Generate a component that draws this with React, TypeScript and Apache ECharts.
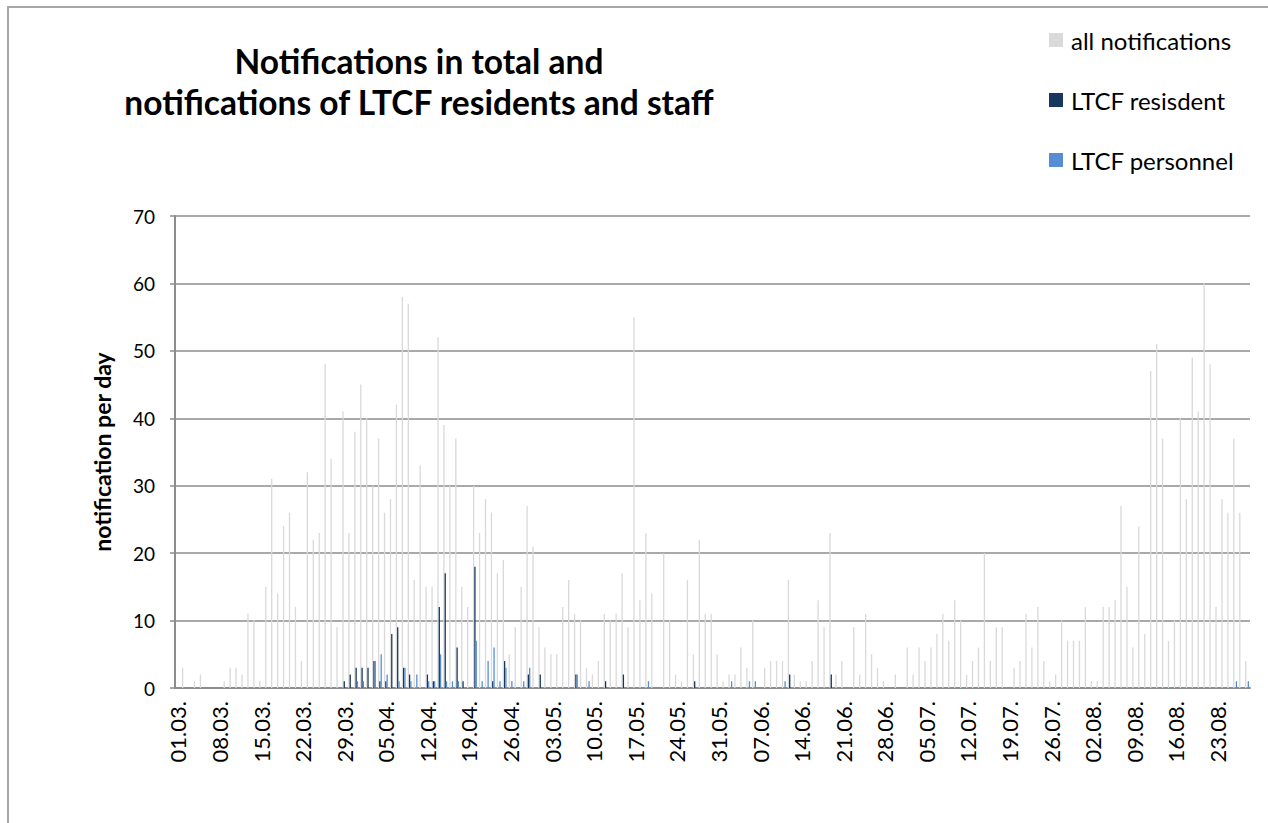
import React, { useEffect, useRef } from "react";
import * as echarts from "echarts";

const FONT = "Lato";

// Daily categories 01.03. .. 28.08.
const FIRST_MONTH = 3;
const MONTH_LENGTHS = [31, 30, 31, 30, 31, 31]; // Mar..Aug
const DAY_COUNT = 181;

function buildDates(): string[] {
  const out: string[] = [];
  let m = 0;
  let d = 1;
  for (let i = 0; i < DAY_COUNT; i++) {
    out.push(String(d).padStart(2, "0") + "." + String(FIRST_MONTH + m).padStart(2, "0") + ".");
    d++;
    if (d > MONTH_LENGTHS[m]) {
      d = 1;
      m++;
    }
  }
  return out;
}
const dates = buildDates();

const allNotifications = [
  0, 3, 0, 1, 2, 0, 0, 0, 1, 3,
  3, 2, 11, 10, 1, 15, 31, 14, 24, 26,
  12, 4, 32, 22, 23, 48, 34, 9, 41, 23,
  38, 45, 40, 30, 37, 26, 28, 42, 58, 57,
  16, 33, 15, 15, 52, 39, 30, 37, 15, 12,
  30, 23, 28, 26, 17, 19, 5, 9, 15, 27,
  21, 9, 6, 5, 5, 12, 16, 11, 10, 3,
  2, 4, 11, 10, 11, 17, 9, 55, 13, 23,
  14, 0, 20, 10, 2, 1, 16, 5, 22, 11,
  11, 5, 1, 2, 2, 6, 3, 10, 0, 3,
  4, 4, 4, 16, 2, 1, 1, 4, 13, 9,
  23, 2, 4, 0, 9, 2, 11, 5, 3, 1,
  0, 2, 0, 6, 2, 6, 4, 6, 8, 11,
  7, 13, 10, 2, 4, 6, 20, 4, 9, 9,
  0, 3, 4, 11, 6, 12, 4, 1, 2, 10,
  7, 7, 7, 12, 1, 1, 12, 12, 13, 27,
  15, 6, 24, 8, 47, 51, 37, 7, 10, 40,
  28, 49, 41, 60, 48, 12, 28, 26, 37, 26,
  4,
];

const ltcfResident = [
  0, 0, 0, 0, 0, 0, 0, 0, 0, 0,
  0, 0, 0, 0, 0, 0, 0, 0, 0, 0,
  0, 0, 0, 0, 0, 0, 0, 0, 1, 2,
  3, 3, 3, 4, 1, 1, 8, 9, 3, 2,
  0, 0, 2, 1, 12, 17, 0, 6, 1, 0,
  18, 0, 0, 1, 0, 4, 0, 0, 0, 2,
  0, 2, 0, 0, 0, 0, 0, 2, 0, 0,
  0, 0, 1, 0, 0, 2, 0, 0, 0, 0,
  0, 0, 0, 0, 0, 0, 0, 1, 0, 0,
  0, 0, 0, 0, 0, 0, 0, 0, 0, 0,
  0, 0, 0, 2, 0, 0, 0, 0, 0, 0,
  2, 0, 0, 0, 0, 0, 0, 0, 0, 0,
  0, 0, 0, 0, 0, 0, 0, 0, 0, 0,
  0, 0, 0, 0, 0, 0, 0, 0, 0, 0,
  0, 0, 0, 0, 0, 0, 0, 0, 0, 0,
  0, 0, 0, 0, 0, 0, 0, 0, 0, 0,
  0, 0, 0, 0, 0, 0, 0, 0, 0, 0,
  0, 0, 0, 0, 0, 0, 0, 0, 0, 0,
  0,
];

const ltcfPersonnel = [
  0, 0, 0, 0, 0, 0, 0, 0, 0, 0,
  0, 0, 0, 0, 0, 0, 0, 0, 0, 0,
  0, 0, 0, 0, 0, 0, 0, 0, 0, 0,
  1, 1, 0, 4, 5, 2, 0, 1, 3, 1,
  2, 0, 1, 1, 5, 1, 1, 1, 0, 0,
  7, 1, 4, 6, 1, 3, 1, 0, 1, 3,
  0, 0, 0, 0, 0, 0, 0, 2, 0, 1,
  0, 0, 0, 0, 0, 0, 0, 0, 0, 1,
  0, 0, 0, 0, 0, 0, 0, 0, 0, 0,
  0, 0, 0, 1, 0, 0, 1, 1, 0, 0,
  0, 0, 1, 0, 0, 0, 0, 0, 0, 0,
  0, 0, 0, 0, 0, 0, 0, 0, 0, 0,
  0, 0, 0, 0, 0, 0, 0, 0, 0, 0,
  0, 0, 0, 0, 0, 0, 0, 0, 0, 0,
  0, 0, 0, 0, 0, 0, 0, 0, 0, 0,
  0, 0, 0, 0, 0, 0, 0, 0, 0, 0,
  0, 0, 0, 0, 0, 0, 0, 0, 0, 0,
  0, 0, 0, 0, 0, 0, 0, 0, 1, 0,
  1,
];

const SERIES_NAMES = ["all notifications", "LTCF resisdent", "LTCF personnel"];
const COLORS = ["#d9d9d9", "#17375e", "#558ed5"];
const Y_MIN = 0;
const Y_MAX = 70;
const Y_STEP = 10;

const AXIS_GREY = "#8c8c8c";

export default function App() {
  const ref = useRef<HTMLDivElement>(null);

  useEffect(() => {
    if (!ref.current) return;
    const chart = echarts.init(ref.current, undefined, { renderer: "svg" });
    const seriesData = [allNotifications, ltcfResident, ltcfPersonnel];
    chart.setOption({
      animation: false,
      textStyle: { fontFamily: FONT },
      title: {
        text: "Notifications in total and\nnotifications of LTCF residents and staff",
        left: 414,
        top: 35,
        textAlign: "center",
        textStyle: {
          fontFamily: FONT,
          fontSize: 33.5,
          fontWeight: "bold",
          lineHeight: 41,
          color: "#000",
        },
      },
      legend: {
        orient: "vertical",
        left: 1044,
        top: 23,
        itemWidth: 14,
        itemHeight: 14,
        itemGap: 36,
        icon: "rect",
        selectedMode: false,
        textStyle: { fontFamily: FONT, fontSize: 24, color: "#000", padding: [0, 0, 0, 3] },
        data: SERIES_NAMES,
      },
      grid: { left: 175, right: 18, top: 216, bottom: 135, containLabel: false },
      xAxis: {
        type: "category",
        data: dates,
        axisLine: { lineStyle: { color: AXIS_GREY, width: 2 } },
        axisTick: { interval: 0, length: 6, lineStyle: { color: AXIS_GREY, width: 1.5 } },
        axisLabel: {
          interval: 6,
          rotate: 90,
          fontFamily: FONT,
          fontSize: 22,
          color: "#000",
          margin: 13,
        },
      },
      yAxis: {
        type: "value",
        min: Y_MIN,
        max: Y_MAX,
        interval: Y_STEP,
        name: "notification per day",
        nameLocation: "middle",
        nameGap: 62,
        nameRotate: 90,
        nameTextStyle: { fontFamily: FONT, fontSize: 23, fontWeight: "bold", color: "#000" },
        axisLine: { show: true, lineStyle: { color: AXIS_GREY, width: 2 } },
        axisTick: { show: true, length: 5, lineStyle: { color: AXIS_GREY, width: 1.5 } },
        splitLine: { show: true, lineStyle: { color: AXIS_GREY, width: 1.5 } },
        axisLabel: { fontFamily: FONT, fontSize: 19, color: "#000", margin: 20 },
      },
      series: SERIES_NAMES.map((name, i) => ({
        name,
        type: "bar",
        data: seriesData[i],
        barWidth: 1.3,
        barGap: "0%",
        itemStyle: { color: COLORS[i] },
      })),
    });
    return () => chart.dispose();
  }, []);

  return (
    <div style={{ position: "fixed", left: 0, top: 0, width: 1268, height: 823, background: "#fff", overflow: "hidden" }}>
      <div
        style={{
          position: "absolute",
          left: 7,
          top: 6,
          width: 1268,
          height: 823,
          borderLeft: "2px solid #a6a6a6",
          borderTop: "2px solid #a6a6a6",
        }}
      />
      <div ref={ref} style={{ position: "absolute", left: 0, top: 0, width: 1268, height: 823 }} />
    </div>
  );
}
